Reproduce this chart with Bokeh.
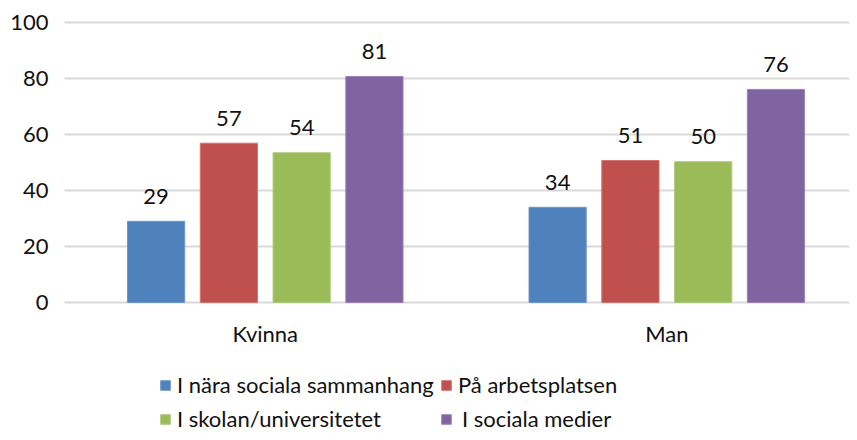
import numpy as np
from bokeh.plotting import figure
from bokeh.models import Range1d, FixedTicker, Legend, LegendItem, ColumnDataSource
from bokeh.core.properties import value
from bokeh.embed import file_html
from bokeh.resources import INLINE

# ---- data ----
categories = ["Kvinna", "Man"]
series_names = ["I nära sociala sammanhang", "På arbetsplatsen",
                "I skolan/universitetet", "I sociala medier"]
nara_sociala = [29.0, 34.0]
arbetsplatsen = [56.9, 50.7]
skolan = [53.5, 50.3]
sociala_medier = [80.7, 76.1]
y_ticks = [0, 20, 40, 60, 80, 100]

# ---- style ----
FONT = "Lato"
FS = "22px"
TXT = "#111111"
fills = ["#4F81BD", "#C0504D", "#9BBB59", "#8064A2"]
edges = ["#6E96C8", "#D07471", "#B0CA80", "#9A82B8"]

p = figure(width=849, height=432, output_backend="svg", toolbar_location=None,
           x_range=Range1d(0, 1.955), y_range=Range1d(-46.43, 107.857),
           x_axis_location=None,
           min_border_left=64, min_border_right=0, min_border_top=0, min_border_bottom=0)
p.outline_line_color = None
p.background_fill_color = "white"
p.border_fill_color = "white"
p.xgrid.grid_line_color = None

p.yaxis.ticker = FixedTicker(ticks=y_ticks)
p.ygrid.ticker = FixedTicker(ticks=y_ticks)
p.ygrid.grid_line_color = "#D9D9D9"
p.ygrid.grid_line_width = 2
p.yaxis.axis_line_color = None
p.yaxis.major_tick_line_color = None
p.yaxis.minor_tick_line_color = None
p.yaxis.major_label_standoff = 10
p.yaxis.major_label_text_font = FONT
p.yaxis.major_label_text_font_size = FS
p.yaxis.major_label_text_color = TXT

xs = np.arange(len(categories)) + 0.5
step = 0.18125
bw = 0.1425
all_vals = [nara_sociala, arbetsplatsen, skolan, sociala_medier]

renderers = []
for i, (name, vals) in enumerate(zip(series_names, all_vals)):
    off = (i - 1.5) * step
    src = ColumnDataSource(dict(x=xs + off, top=vals,
                                lab=[f"{v:.0f}" for v in vals]))
    r = p.vbar(x="x", top="top", width=bw, source=src,
               fill_color=fills[i], line_color=edges[i], line_width=1)
    renderers.append(r)
    p.text(x="x", y="top", text="lab", source=src, text_align="center",
           text_baseline="middle", y_offset=-25, text_font=value(FONT),
           text_font_size=FS, text_color=TXT)

p.text(x=xs, y=[0] * len(categories), text=categories, text_align="center",
       text_baseline="middle", y_offset=31, text_font=value(FONT),
       text_font_size=FS, text_color=TXT)

# legend: two rows, two columns
leg_pos = [(95, 34), (376, 34), (95, 0), (376, 0)]
standoffs = [6, 6, 6, 10]
for i, name in enumerate(series_names):
    leg = Legend(items=[LegendItem(label=name, renderers=[renderers[i]])],
                 location=leg_pos[i], orientation="horizontal",
                 padding=0, margin=0, spacing=0,
                 border_line_color=None, background_fill_alpha=0,
                 glyph_width=12, glyph_height=12, label_standoff=standoffs[i],
                 label_height=20,
                 label_text_font=FONT, label_text_font_size=FS,
                 label_text_color=TXT)
    p.add_layout(leg)

open("out.html", "w").write(file_html(p, INLINE))
